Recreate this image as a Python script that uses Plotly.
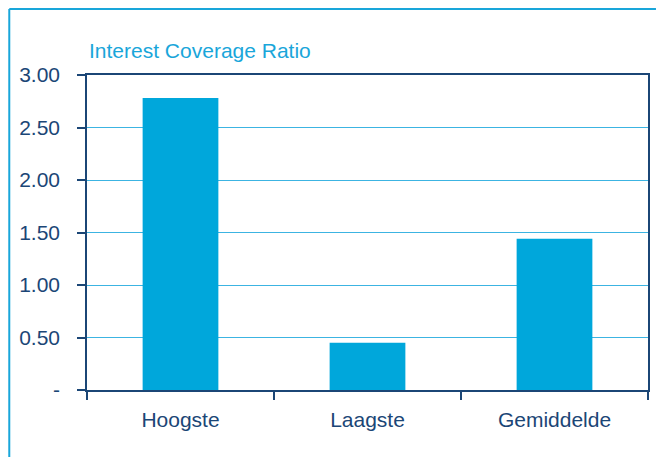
import plotly.graph_objects as go

# Interest coverage ratio: highest, lowest and average
categories = ["Hoogste", "Laagste", "Gemiddelde"]
values = [2.78, 0.45, 1.44]
y_tick_vals = [0, 0.5, 1.0, 1.5, 2.0, 2.5, 3.0]
y_tick_text = ["-", "0.50", "1.00", "1.50", "2.00", "2.50", "3.00"]
title_text = "Interest Coverage Ratio"

BAR = "#00A7DB"
NAVY = "#1B4676"
GRID = "#3CB4E2"
CYAN = "#19A6DA"
FONT = "Liberation Sans, Arial, sans-serif"

W, H = 658, 457
L, R, T, B = 87, 8, 75, 67
pw, ph = W - L - R, H - T - B


def px_x(x):
    return (x - L) / pw


def px_y(y):
    return (H - B - y) / ph


fig = go.Figure(
    go.Bar(
        x=categories,
        y=values,
        marker=dict(color=BAR, line=dict(width=0)),
        width=0.405,
        hoverinfo="skip",
    )
)

fig.update_layout(
    width=W,
    height=H,
    margin=dict(l=L, r=R, t=T, b=B),
    paper_bgcolor="white",
    plot_bgcolor="white",
    showlegend=False,
    font=dict(family=FONT, color=NAVY, size=21),
    xaxis=dict(
        showline=True,
        linecolor=NAVY,
        linewidth=1.5,
        mirror=True,
        ticks="outside",
        tickson="boundaries",
        ticklen=8,
        tickwidth=1.5,
        tickcolor=NAVY,
        showgrid=False,
        tickfont=dict(size=21, color=NAVY),
        ticklabelstandoff=10,
    ),
    yaxis=dict(
        range=[0, 3.0],
        tickvals=y_tick_vals,
        ticktext=y_tick_text,
        showline=True,
        linecolor=NAVY,
        linewidth=1.5,
        mirror=True,
        ticks="outside",
        ticklen=8,
        tickwidth=1.5,
        tickcolor=NAVY,
        showgrid=True,
        gridcolor=GRID,
        gridwidth=1.2,
        zeroline=False,
        tickfont=dict(size=21, color=NAVY),
        ticklabelstandoff=13,
    ),
    annotations=[
        dict(
            text=title_text,
            xref="paper",
            yref="paper",
            x=0,
            y=px_y(50),
            xanchor="left",
            yanchor="middle",
            showarrow=False,
            font=dict(family=FONT, size=21, color=CYAN),
        )
    ],
    shapes=[
        # frame along the top and left edges of the page
        dict(type="line", xref="paper", yref="paper",
             x0=px_x(9), x1=px_x(W), y0=px_y(9), y1=px_y(9),
             line=dict(color=CYAN, width=2)),
        dict(type="line", xref="paper", yref="paper",
             x0=px_x(9), x1=px_x(9), y0=px_y(9), y1=px_y(H),
             line=dict(color=CYAN, width=2)),
    ],
)

fig.write_html("out.html")
